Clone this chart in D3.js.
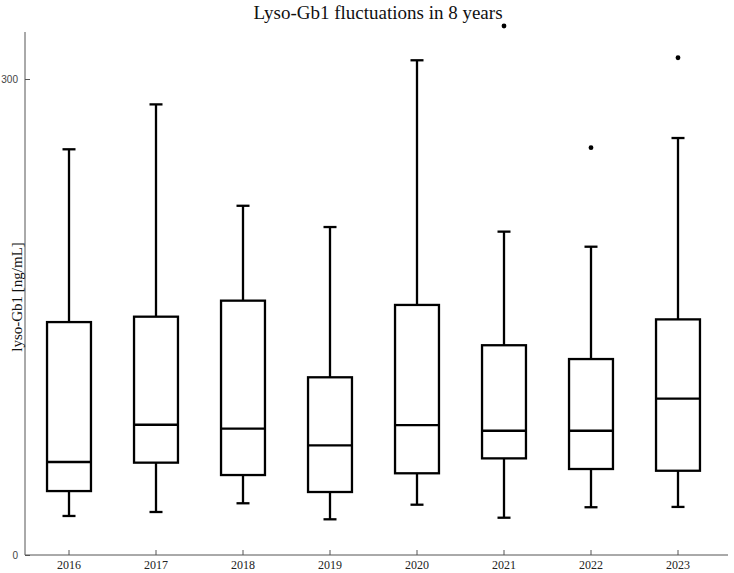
<!DOCTYPE html>
<html>
<head>
<meta charset="utf-8">
<script src="https://cdn.jsdelivr.net/npm/d3@7"></script>
<style>
  body { margin: 0; background: #fff; }
</style>
</head>
<body>
<div id="chart"></div>
<script>
// values (ng/mL)
var years = ['2016', '2017', '2018', '2019', '2020', '2021', '2022', '2023']
var whiskerLow = [24.6, 27.1, 32.6, 22.5, 31.7, 23.5, 30.1, 30.3]
var q1 = [40.3, 58.2, 50.4, 39.7, 51.5, 60.9, 54.2, 53.1]
var median = [58.6, 82.1, 79.6, 69.1, 81.9, 78.3, 78.3, 98.5]
var q3 = [146.8, 150.2, 160.3, 112.0, 157.6, 132.2, 123.5, 148.5]
var whiskerHigh = [255.7, 284.0, 220.1, 206.7, 311.8, 203.8, 194.3, 262.8]
var outlierYears = ['2021', '2022', '2023']
var outlierValues = [333.4, 256.7, 313.4]
var yTicks = [0, 300]

const width = 734
const height = 573

const svg = d3.select('#chart')
    .append('svg')
    .attr('width', width)
    .attr('height', height)

const x = d3.scaleBand()
    .domain(years)
    .range([25.5, 721.5])

const y = d3.scaleLinear()
    .domain([0, 300])
    .range([555, 79])

const axisColor = '#555'

// x axis
const gx = svg.append('g')
    .attr('transform', 'translate(0,555)')
    .call(d3.axisBottom(x).tickSize(-5).tickSizeOuter(0).tickPadding(5))
gx.select('.domain').remove()
gx.selectAll('line').attr('stroke', axisColor)
gx.selectAll('text')
    .attr('font-family', '"Liberation Serif", serif')
    .attr('font-size', 12)
    .attr('fill', '#222')

// y axis
const gy = svg.append('g')
    .attr('transform', 'translate(25,0)')
    .call(d3.axisLeft(y).tickValues(yTicks).tickSize(-5).tickSizeOuter(0).tickPadding(7))
gy.select('.domain').remove()
gy.selectAll('line').attr('stroke', axisColor)
gy.selectAll('text')
    .attr('font-family', '"Liberation Sans", sans-serif')
    .attr('font-size', 10)
    .attr('fill', '#444')

// axis lines drawn longer than the scale ranges
svg.append('line')
    .attr('x1', 25).attr('x2', 25)
    .attr('y1', 32).attr('y2', 555)
    .attr('stroke', axisColor)
svg.append('line')
    .attr('x1', 25).attr('x2', 728)
    .attr('y1', 555).attr('y2', 555)
    .attr('stroke', axisColor)

// boxes
const boxW = x.bandwidth() * 0.505
const capW = 13
const stroke = 2.3

years.forEach((yr, i) => {
    const cx = x(yr) + x.bandwidth() / 2
    const g = svg.append('g')
        .attr('stroke', 'black')
        .attr('stroke-width', stroke)
        .attr('fill', 'none')

    // whiskers
    g.append('line')
        .attr('x1', cx).attr('x2', cx)
        .attr('y1', y(whiskerHigh[i])).attr('y2', y(q3[i]))
    g.append('line')
        .attr('x1', cx).attr('x2', cx)
        .attr('y1', y(q1[i])).attr('y2', y(whiskerLow[i]))
    g.append('line')
        .attr('x1', cx - capW / 2).attr('x2', cx + capW / 2)
        .attr('y1', y(whiskerHigh[i])).attr('y2', y(whiskerHigh[i]))
    g.append('line')
        .attr('x1', cx - capW / 2).attr('x2', cx + capW / 2)
        .attr('y1', y(whiskerLow[i])).attr('y2', y(whiskerLow[i]))

    // box
    g.append('rect')
        .attr('x', cx - boxW / 2)
        .attr('y', y(q3[i]))
        .attr('width', boxW)
        .attr('height', y(q1[i]) - y(q3[i]))
        .attr('fill', 'white')

    // median
    g.append('line')
        .attr('x1', cx - boxW / 2).attr('x2', cx + boxW / 2)
        .attr('y1', y(median[i])).attr('y2', y(median[i]))
})

// outliers
outlierYears.forEach((yr, i) => {
    svg.append('circle')
        .attr('cx', x(yr) + x.bandwidth() / 2)
        .attr('cy', y(outlierValues[i]))
        .attr('r', 2.4)
        .attr('fill', 'black')
})

// title
svg.append('text')
    .attr('x', 378)
    .attr('y', 19)
    .attr('text-anchor', 'middle')
    .attr('font-family', '"Liberation Serif", serif')
    .attr('font-size', 19)
    .attr('fill', '#111')
    .text('Lyso-Gb1 fluctuations in 8 years')

// y label
svg.append('text')
    .attr('transform', 'translate(22,297) rotate(-90)')
    .attr('text-anchor', 'middle')
    .attr('font-family', '"Liberation Serif", serif')
    .attr('font-size', 15)
    .attr('fill', '#111')
    .text('lyso-Gb1 [ng/mL]')
</script>
</body>
</html>
